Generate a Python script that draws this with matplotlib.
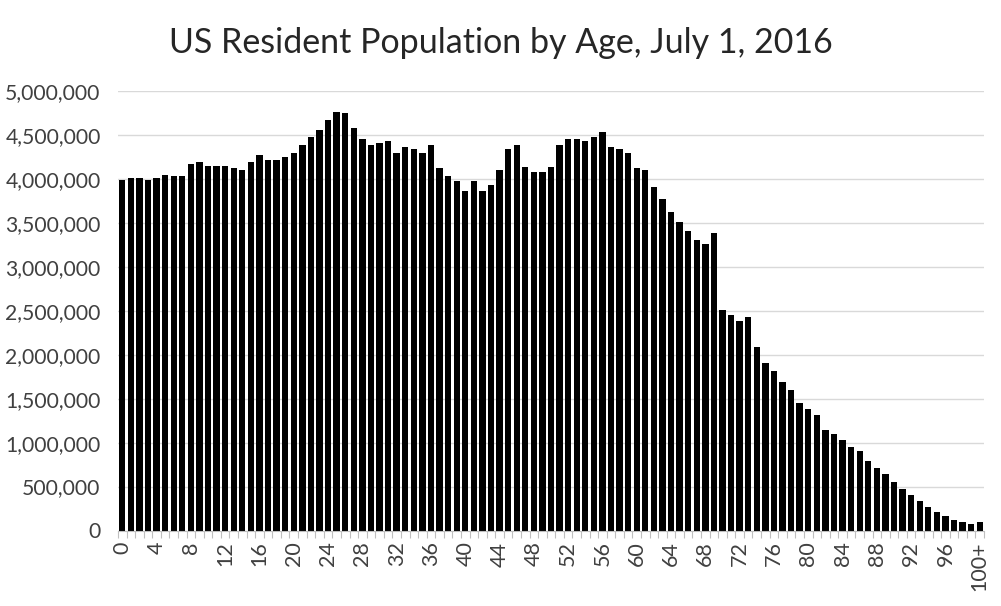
import numpy as np
import matplotlib
matplotlib.use("Agg")
import matplotlib.pyplot as plt
from matplotlib.ticker import FuncFormatter, MultipleLocator

# population by single year of age (millions)
ages = list(range(101))
age_labels = [str(a) for a in ages[:-1]] + ["100+"]
population_m = [
    3.99, 4.01, 4.01, 3.99, 4.01, 4.05, 4.03, 4.03, 4.17, 4.19,
    4.15, 4.15, 4.15, 4.125, 4.10, 4.19, 4.27, 4.22, 4.22, 4.25,
    4.30, 4.39, 4.48, 4.56, 4.67, 4.765, 4.75, 4.58, 4.45, 4.38,
    4.41, 4.43, 4.29, 4.36, 4.34, 4.29, 4.38, 4.12, 4.03, 3.98,
    3.86, 3.98, 3.86, 3.93, 4.10, 4.34, 4.38, 4.14, 4.08, 4.08,
    4.14, 4.38, 4.45, 4.45, 4.43, 4.48, 4.53, 4.36, 4.34, 4.29,
    4.12, 4.10, 3.905, 3.77, 3.62, 3.51, 3.41, 3.31, 3.265, 3.38,
    2.505, 2.455, 2.385, 2.43, 2.09, 1.905, 1.81, 1.69, 1.60, 1.45,
    1.38, 1.31, 1.14, 1.10, 1.03, 0.95, 0.905, 0.79, 0.71, 0.645,
    0.55, 0.47, 0.40, 0.34, 0.265, 0.21, 0.165, 0.125, 0.10, 0.075,
    0.095,
]
population = np.array(population_m) * 1e6

plt.rcParams['font.family'] = ['Lato', 'DejaVu Sans']

fig = plt.figure(figsize=(10.01, 6.06), dpi=100)
ax = fig.add_axes([118 / 1001, 1 - 530.5 / 606, 866 / 1001, (530.5 - 91) / 606])

ax.bar(ages, population, width=0.74, color='black', zorder=3)

ax.set_xlim(-0.5, 100.5)
ax.set_ylim(0, 5_000_000)
ax.yaxis.set_major_locator(MultipleLocator(500_000))
ax.yaxis.set_major_formatter(FuncFormatter(lambda v, p: f"{int(v):,}"))
ax.grid(axis='y', color='#d9d9d9', linewidth=1, zorder=0)
ax.tick_params(axis='y', length=0, pad=12.5, labelsize=15.2, labelcolor='#404040')

label_pos = list(range(0, 101, 4))
ax.set_xticks(label_pos)
ax.set_xticklabels([age_labels[i] for i in label_pos], rotation=90)
ax.set_xticks(np.arange(-0.5, 101, 1), minor=True)
ax.tick_params(axis='x', which='major', length=0, pad=8, labelsize=15.5, labelcolor='#404040')
ax.tick_params(axis='x', which='minor', length=5, color='#bfbfbf', width=0.8)

for side in ['top', 'right', 'left']:
    ax.spines[side].set_visible(False)
ax.spines['bottom'].set_color('#bfbfbf')
ax.spines['bottom'].set_zorder(4)

fig.text(0.5, 1 - 43 / 606, "US Resident Population by Age, July 1, 2016",
         ha='center', va='center', fontsize=24.5, color='#262626')

fig.savefig("out.png", dpi=100)
